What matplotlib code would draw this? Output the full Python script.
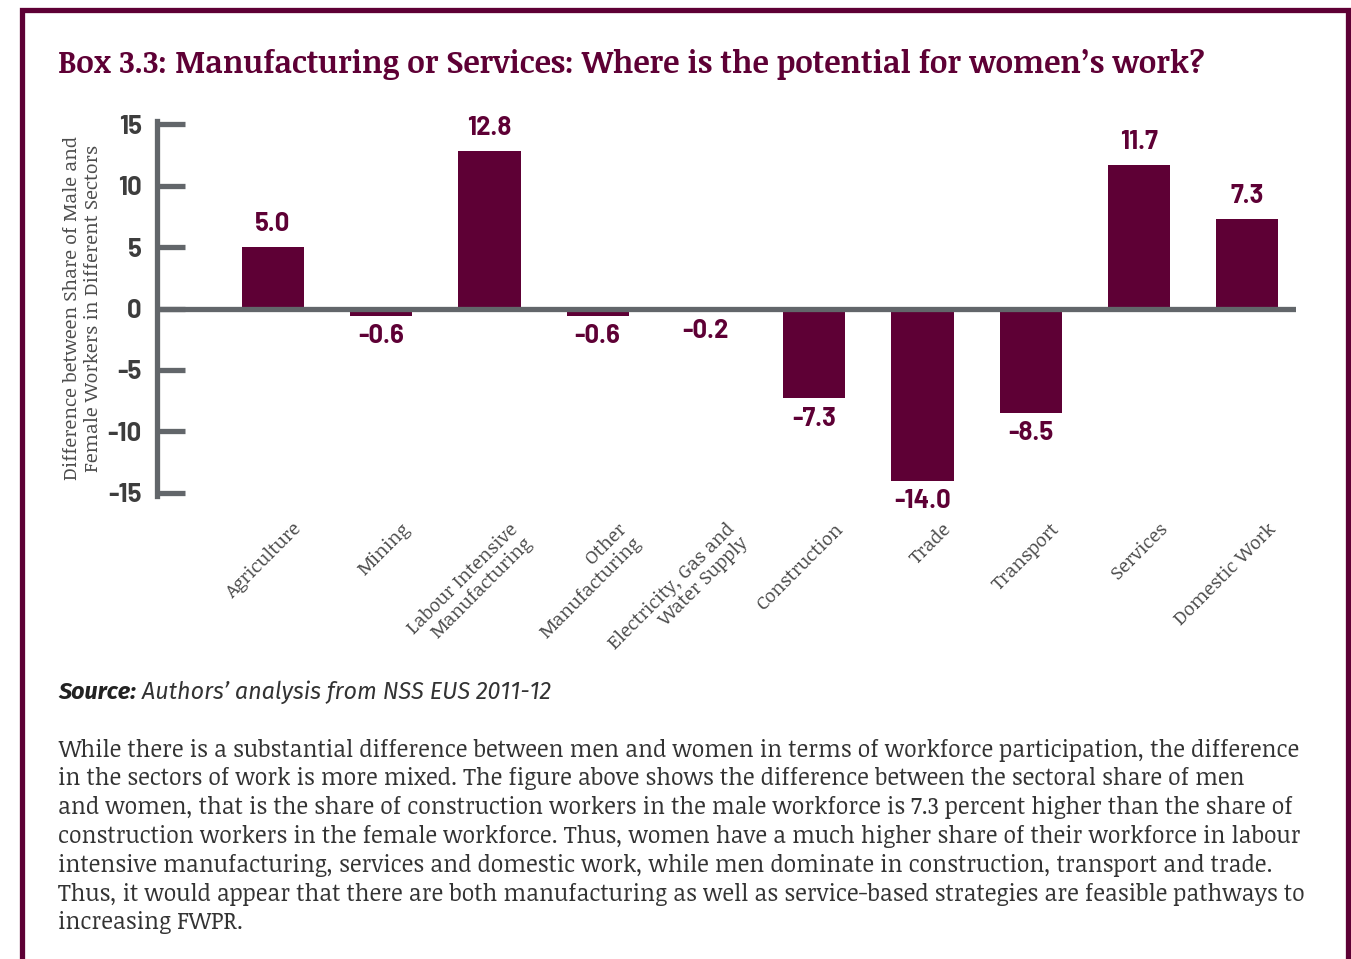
import matplotlib

matplotlib.use("Agg")
import matplotlib.pyplot as plt
from matplotlib.patches import Rectangle
from matplotlib import font_manager

MAROON = "#5e0035"
AXIS_GREY = "#62666a"
TEXT_GREY = "#4d4d4d"

SECTORS = [
    "Agriculture",
    "Mining",
    "Labour Intensive\nManufacturing",
    "Other\nManufacturing",
    "Electricity, Gas and\nWater Supply",
    "Construction",
    "Trade",
    "Transport",
    "Services",
    "Domestic Work",
]
DIFFERENCE = [5.0, -0.6, 12.8, -0.6, -0.2, -7.3, -14.0, -8.5, 11.7, 7.3]
Y_TICKS = [-15, -10, -5, 0, 5, 10, 15]

TITLE = "Box 3.3: Manufacturing or Services: Where is the potential for women\u2019s work?"
Y_LABEL = "Difference between Share of Male and\nFemale Workers in Different Sectors"
SOURCE_HEAD = "Source:"
SOURCE_BODY = " Authors\u2019 analysis from NSS EUS 2011-12"
BODY_LINES = [
    "While there is a substantial difference between men and women in terms of workforce participation, the difference",
    "in the sectors of work is more mixed. The figure above shows the difference between the sectoral share of men",
    "and women, that is the share of construction workers in the male workforce is 7.3 percent higher than the share of",
    "construction workers in the female workforce. Thus, women have a much higher share of their workforce in labour",
    "intensive manufacturing, services and domestic work, while men dominate in construction, transport and trade.",
    "Thus, it would appear that there are both manufacturing as well as service-based strategies are feasible pathways to",
    "increasing FWPR.",
]

installed = {f.name for f in font_manager.fontManager.ttflist}


def pick(*families):
    for fam in families:
        if fam in installed:
            return fam
    return families[-1]


NUM_FONT = pick("Barlow", "Barlow Semi Condensed", "DejaVu Sans")
SERIF = pick("Noticia Text", "PT Serif", "Source Serif 4", "Liberation Serif")
SANS = pick("Fira Sans", "Source Sans 3", "Open Sans")
NUM_SIZE = 18.5

W, H = 1351, 959
fig = plt.figure(figsize=(W / 100, H / 100), dpi=100)
renderer = fig.canvas.get_renderer()


def fx(px):
    return px / W


def fy(py):
    return 1 - py / H


def fit_width(txt, width_px):
    # rescale a text so that it spans the given width in pixels
    w = txt.get_window_extent(renderer).width
    txt.set_fontsize(txt.get_fontsize() * width_px / w)


# outer box frame (open at the bottom)
fig.patches.append(
    Rectangle((fx(22), fy(H + 20)), fx(1326), (H + 10) / H,
              transform=fig.transFigure, fill=False, edgecolor=MAROON,
              linewidth=3.8, zorder=0)
)

title = fig.text(fx(58), fy(64), TITLE, family=SERIF, weight="bold", fontsize=22,
                 color=MAROON, va="center", ha="left")
fit_width(title, 1147)

ax = fig.add_axes([fx(157), fy(496), fx(1296 - 157), (496 - 121) / H])
x = list(range(len(SECTORS)))
ax.bar(x, DIFFERENCE, width=0.575, color=MAROON, zorder=2)
ax.axhline(0, color=AXIS_GREY, linewidth=3.8, zorder=3)

ax.set_xlim(-1.07, 9.45)
ax.set_ylim(-15.25, 15.25)
ax.set_yticks(Y_TICKS)
ax.set_yticklabels([str(t) for t in Y_TICKS])
ax.set_xticks([])
for side in ("top", "right", "bottom"):
    ax.spines[side].set_visible(False)
ax.spines["left"].set_color(AXIS_GREY)
ax.spines["left"].set_linewidth(3.8)
ax.tick_params(axis="y", direction="in", length=20, width=3.8, color=AXIS_GREY,
               pad=11, labelsize=NUM_SIZE, labelcolor="#3d3d3d")
for lbl in ax.get_yticklabels():
    lbl.set_family(NUM_FONT)
    lbl.set_weight("bold")

ax.set_ylabel(Y_LABEL, family=SERIF, fontsize=14, color=TEXT_GREY,
              linespacing=1.2, labelpad=4)
# the label is rotated, so fit its height (the text run) to the span
lab_h = ax.yaxis.label.get_window_extent(renderer).height
ax.yaxis.label.set_fontsize(14 * 344 / lab_h)

for xi, v in zip(x, DIFFERENCE):
    if v >= 0:
        ax.annotate(f"{v:.1f}", (xi, v), xytext=(0, 8), textcoords="offset points",
                    ha="center", va="bottom", family=NUM_FONT, weight="bold",
                    fontsize=NUM_SIZE, color=MAROON)
    else:
        ax.annotate(f"{v:.1f}", (xi, v), xytext=(0, -6), textcoords="offset points",
                    ha="center", va="top", family=NUM_FONT, weight="bold",
                    fontsize=NUM_SIZE, color=MAROON)

label_texts = []
for xi, name in zip(x, SECTORS):
    t = ax.text(xi + 0.18, -17.2, name, rotation=45, rotation_mode="anchor",
                ha="right", va="top", family=SERIF, fontsize=15, color=TEXT_GREY,
                linespacing=1.15, clip_on=False)
    label_texts.append(t)
# "Agriculture" runs about 116 px along its slant
agri_w = label_texts[0].get_window_extent(renderer).width
scale = 82 / agri_w
for t in label_texts:
    t.set_fontsize(15 * scale)

src = fig.text(fx(58), fy(692), SOURCE_HEAD, family=SANS, style="italic",
               weight="bold", fontsize=15, color="#222222", va="center", ha="left")
src_body = fig.text(fx(130), fy(692), SOURCE_BODY, family=SANS, style="italic",
                    fontsize=15, color="#333333", va="center", ha="left")
total = (src.get_window_extent(renderer).width
         + src_body.get_window_extent(renderer).width)
for t in (src, src_body):
    t.set_fontsize(15 * 494 / total)
src_body.set_x((58 + src.get_window_extent(renderer).width) / W)

body = []
for i, line in enumerate(BODY_LINES):
    body.append(fig.text(fx(58), fy(750 + 28.8 * i), line, family=SERIF,
                         fontsize=17, color="#333333", va="center", ha="left"))
bscale = 1240 / body[0].get_window_extent(renderer).width
for t in body:
    t.set_fontsize(17 * bscale)

fig.savefig("out.png", dpi=100, facecolor="white")
